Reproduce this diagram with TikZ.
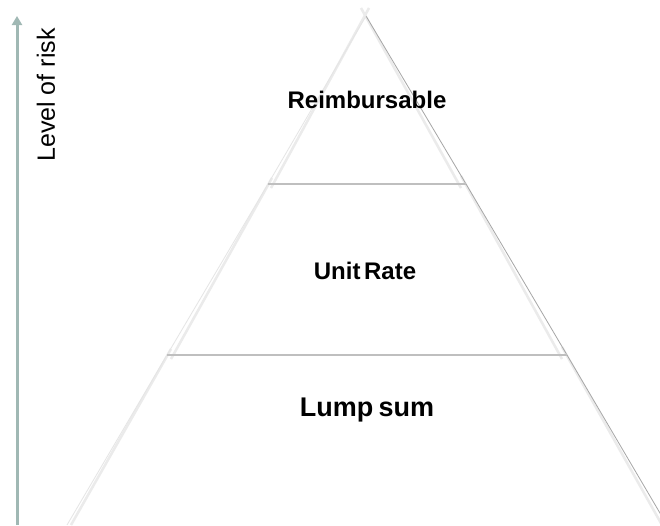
\documentclass[tikz,border=0pt]{standalone}
\usepackage{fontspec}
\setmainfont{Liberation Sans}
\usetikzlibrary{arrows.meta}

\begin{document}
\begin{tikzpicture}[x=1pt,y=-1pt]

\tikzset{level/.style = {font=\bfseries, text=black}}
\tikzset{edge/.style = {draw=black!35, line width=0.8pt}}
\tikzset{glow/.style = {draw=black!8, line width=2.5pt}}
\tikzset{divider/.style = {draw=black!25, line width=1.6pt}}
\tikzset{riskarrow/.style = {draw={rgb,255:red,160;green,184;blue,180}, line width=3pt, -{Triangle[length=9pt,width=10pt]}}}

\useasboundingbox (0,0) rectangle (660,525);
\fill[white] (0,0) rectangle (660,525);

%corners
\coordinate (apex) at (366,16);
\coordinate (tl) at (268,184);
\coordinate (tr) at (466,184);
\coordinate (ml) at (167,355);
\coordinate (mr) at (567,355);
\coordinate (bl) at (67,525);
\coordinate (br) at (667,525);
\coordinate (arrowfoot) at (17,525);
\coordinate (arrowhead) at (17,16);

%faint sides
\path[glow] ([xshift=3pt,yshift=8pt]apex) -- ([xshift=3pt,yshift=-4pt]tl);
\path[glow] ([xshift=4pt,yshift=6pt]tl) -- ([xshift=4pt,yshift=-4pt]ml);
\path[glow] ([xshift=4pt,yshift=6pt]ml) -- ([xshift=4pt]bl);
\path[glow] ([xshift=-5pt,yshift=8pt]apex) -- ([xshift=-5pt,yshift=-4pt]tr);
\path[glow] ([xshift=-5pt,yshift=8pt]tr) -- ([xshift=-5pt,yshift=-4pt]mr);
\path[glow] ([xshift=-5pt,yshift=8pt]mr) -- ([xshift=-5pt]br);

%sides
\path[edge] (apex) -- (tr) -- (mr) -- (br);
\path[draw=black!10, line width=0.8pt] (apex) -- (tl) -- (ml) -- (bl);

%dividers
\path[divider] (tl) -- (tr);
\path[divider] (ml) -- (mr);

%levels
\node[level, font=\fontsize{24}{26}\selectfont\bfseries] (reimb) at (367,100) {Reimbursable};
\node[level, font=\fontsize{24}{26}\selectfont\bfseries] (unit) at (365,271) {Unit\hspace{0.15em}Rate};
\node[level, font=\fontsize{27}{29}\selectfont\bfseries] (lump) at (367,410) {Lump\hspace{0.2em}sum};

%risk axis
\path[riskarrow] (arrowfoot) -- (arrowhead);
\node[rotate=90, font=\fontsize{25}{27}\selectfont] (risk) at (46,95) {Level of risk};

\end{tikzpicture}
\end{document}
